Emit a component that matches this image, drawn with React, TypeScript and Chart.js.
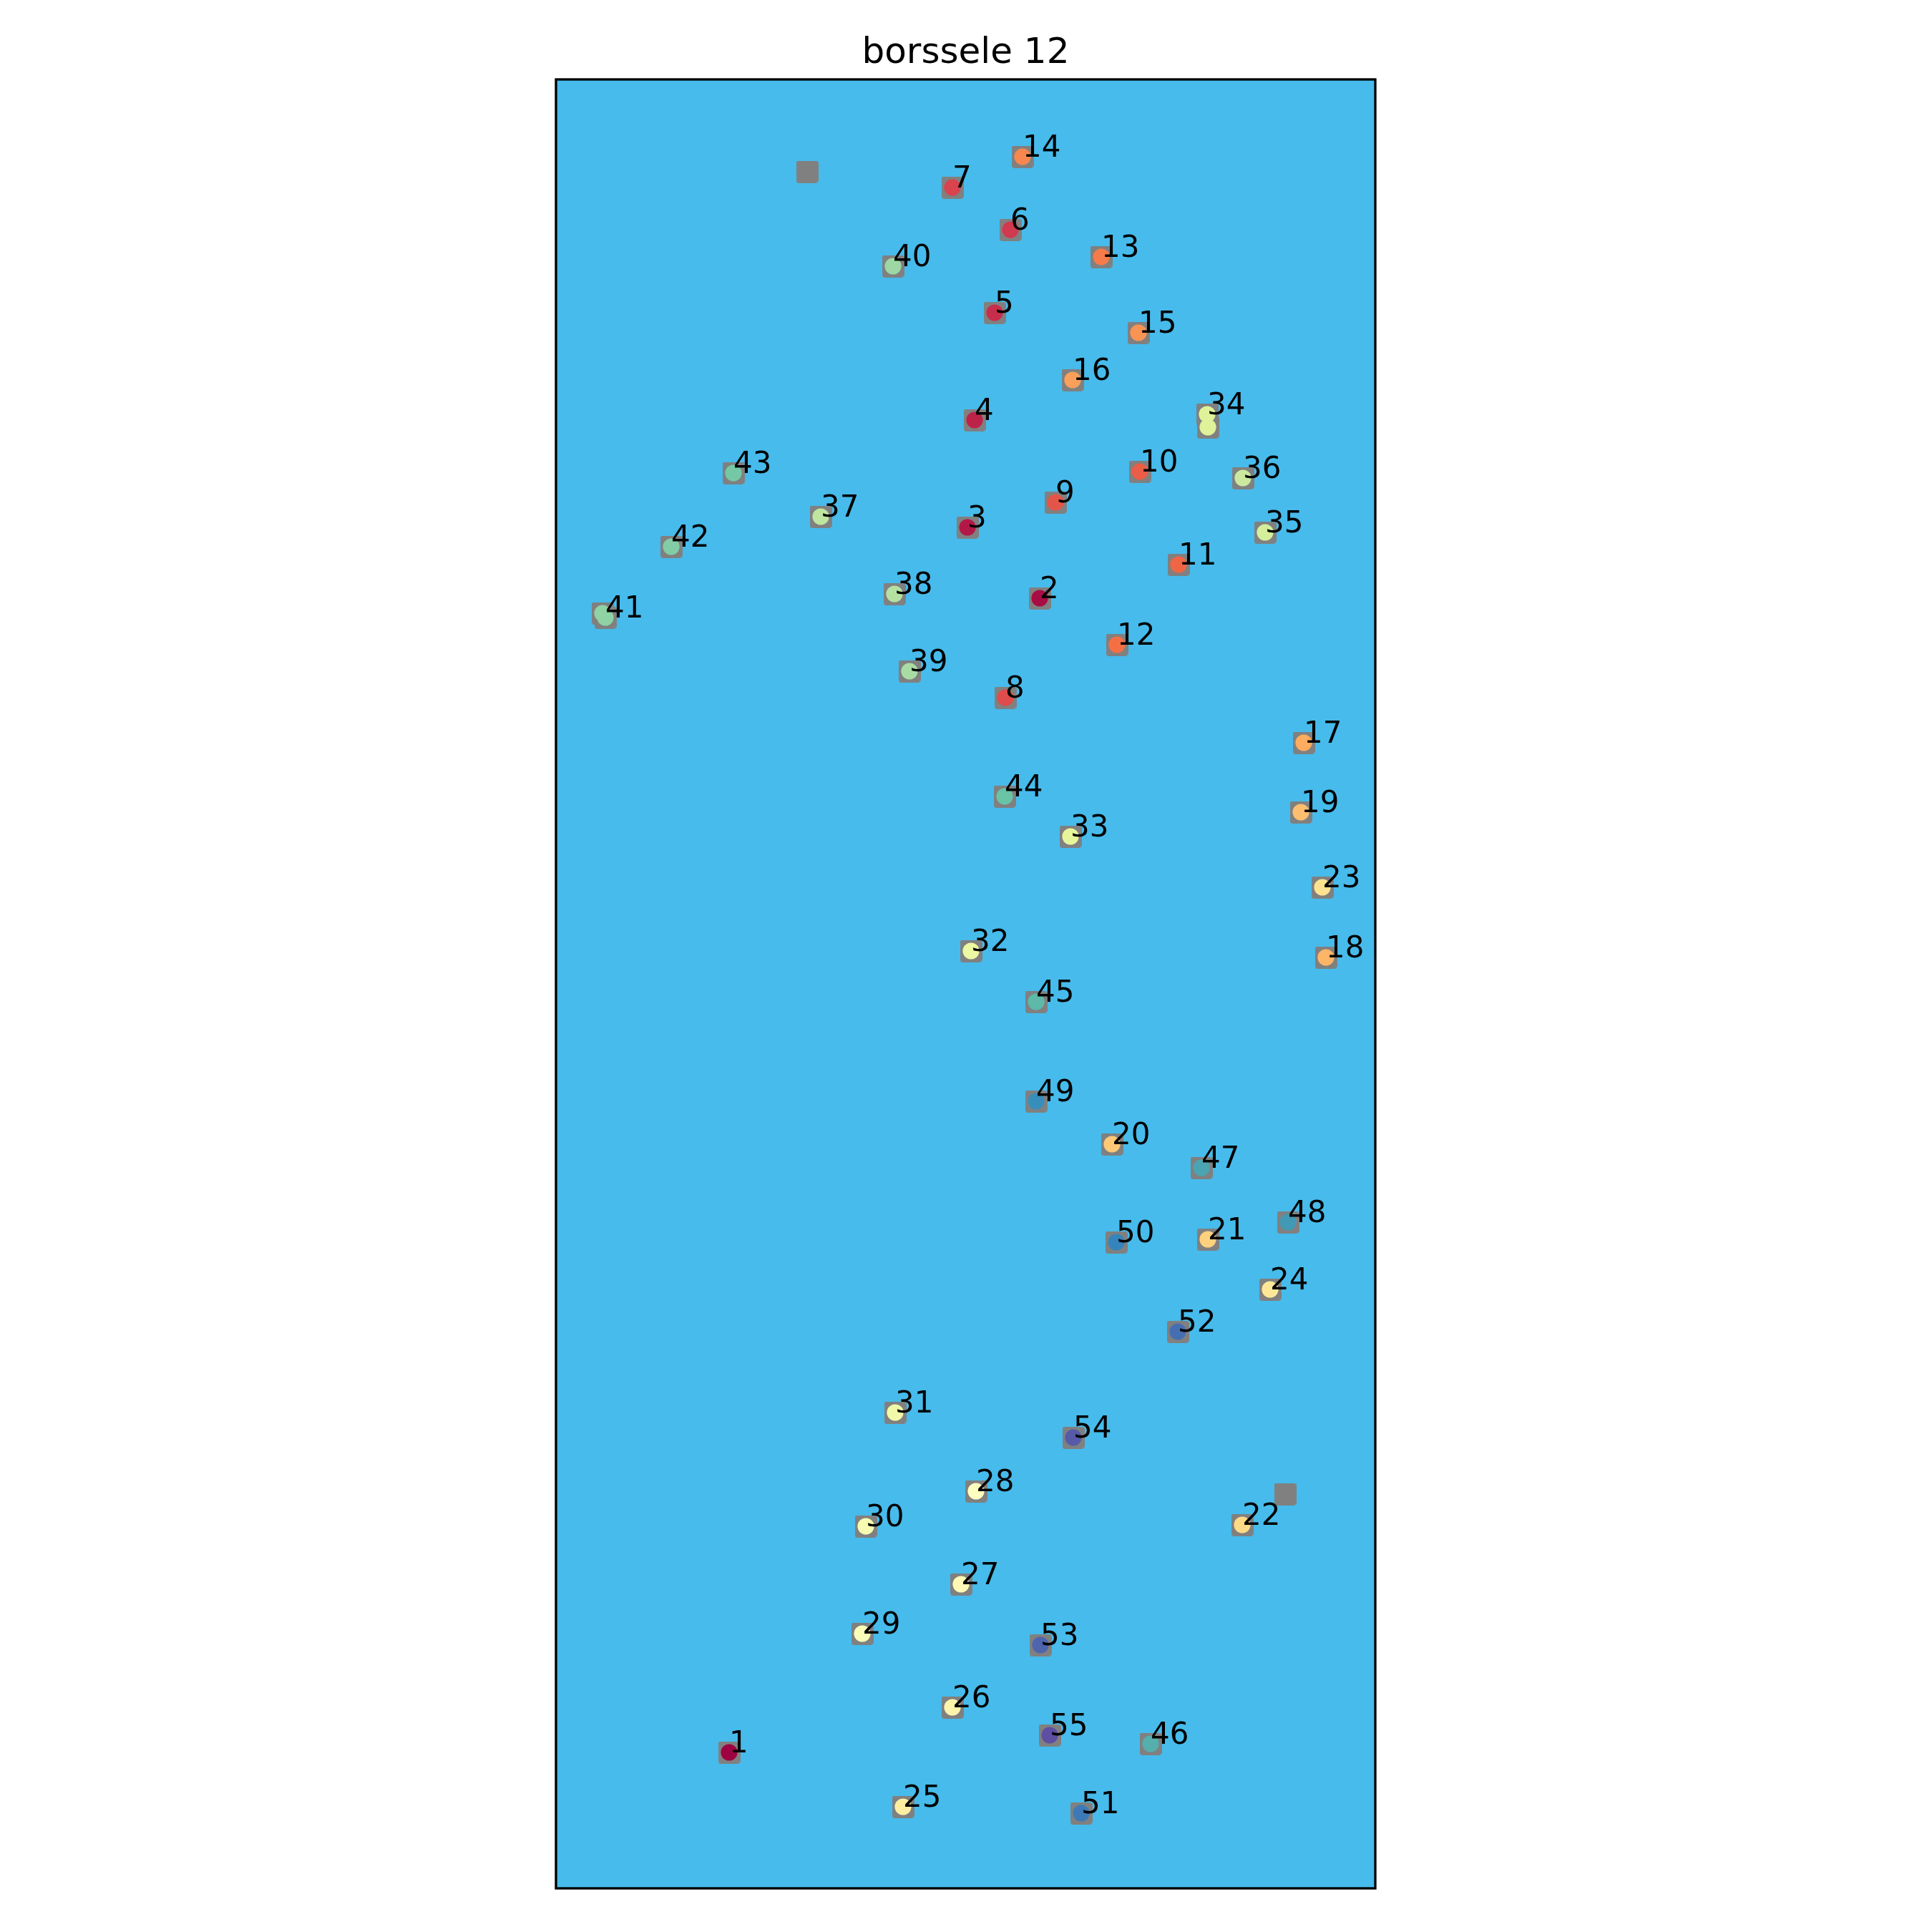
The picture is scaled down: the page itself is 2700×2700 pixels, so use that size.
import React, { useEffect, useRef } from "react";
import { Chart, registerables } from "chart.js";

Chart.register(...registerables);

const titleText = "borssele 12";

// Turbine positions (labelled 1..55), plot units
const turbineX = [
  242, 676, 575, 585, 613, 635, 554, 628, 698, 816,
  870, 784, 762, 652, 814, 722, 1045, 1076, 1041, 777,
  911, 959, 1071, 998, 485, 554, 566, 587, 428, 433,
  474, 580, 719, 910, 991, 960, 370, 473, 494, 471,
  69, 161, 248, 627, 671, 831, 902, 1023, 671, 783,
  734, 869, 677, 723, 690,
];
const turbineY = [
  190, 1803, 1902, 2052, 2202, 2318, 2377, 1664, 1937, 1980,
  1850, 1738, 2280, 2420, 2174, 2108, 1601, 1301, 1504, 1040,
  907, 508, 1399, 837, 114, 253, 425, 555, 356, 506,
  665, 1310, 1470, 2060, 1895, 1971, 1917, 1809, 1701, 2267,
  1776, 1875, 1978, 1526, 1239, 202, 1007, 931, 1100, 903,
  105, 778, 340, 630, 214,
];

// Extra unlabelled turbines (overlapping 34 and 41) and the label whose colour they share
const extraX = [911, 65];
const extraY = [2042, 1782];
const extraColorIndex = [34, 41];

// Candidate site squares that hold no turbine
const siteX = [351, 1019];
const siteY = [2399, 551];

const xMin = 0, xMax = 1145, yMin = 0, yMax = 2528;

const SPECTRAL = [
  "#9e0142", "#d53e4f", "#f46d43", "#fdae61", "#fee08b", "#ffffbf",
  "#e6f598", "#abdda4", "#66c2a5", "#3288bd", "#5e4fa2",
];

function hexToRgb(h: string) {
  return [parseInt(h.slice(1, 3), 16), parseInt(h.slice(3, 5), 16), parseInt(h.slice(5, 7), 16)];
}
function spectral(t: number) {
  const p = Math.max(0, Math.min(1, t)) * (SPECTRAL.length - 1);
  const i = Math.min(Math.floor(p), SPECTRAL.length - 2);
  const f = p - i;
  const a = hexToRgb(SPECTRAL[i]);
  const b = hexToRgb(SPECTRAL[i + 1]);
  const c = a.map((v, k) => Math.round(v + (b[k] - v) * f));
  return `rgb(${c[0]},${c[1]},${c[2]})`;
}

export default function App() {
  const ref = useRef<HTMLCanvasElement | null>(null);

  useEffect(() => {
    document.body.style.margin = "0";
    const canvas = ref.current!;
    const n = turbineX.length;
    const colorOf = (idx1: number) => spectral((idx1 - 1) / (n - 1));

    const sq = document.createElement("canvas");
    sq.width = 31;
    sq.height = 31;
    const sctx = sq.getContext("2d")!;
    sctx.fillStyle = "#808080";
    sctx.beginPath();
    (sctx as any).roundRect(0, 0, 31, 31, 4);
    sctx.fill();

    const turbinePts = turbineX.map((x, i) => ({ x, y: turbineY[i] }));
    const extraPts = extraX.map((x, i) => ({ x, y: extraY[i] }));
    const sitePts = siteX.map((x, i) => ({ x, y: siteY[i] }));
    const squarePts = [...turbinePts, ...extraPts, ...sitePts];

    const bgPlugin = {
      id: "bg",
      beforeDatasetsDraw(chart: any) {
        const { ctx, chartArea: a } = chart;
        ctx.save();
        ctx.fillStyle = "#47BBEB";
        ctx.fillRect(a.left, a.top, a.right - a.left, a.bottom - a.top);
        ctx.restore();
      },
    };

    const labelPlugin = {
      id: "labels",
      afterDatasetsDraw(chart: any) {
        const { ctx } = chart;
        const xs = chart.scales.x, ys = chart.scales.y;
        ctx.save();
        ctx.fillStyle = "#000";
        ctx.font = '42px "DejaVu Sans"';
        ctx.textAlign = "left";
        ctx.textBaseline = "alphabetic";
        turbineX.forEach((x, i) => {
          ctx.fillText(String(i + 1), xs.getPixelForValue(x), ys.getPixelForValue(turbineY[i]));
        });
        ctx.restore();
      },
      afterDraw(chart: any) {
        const { ctx, chartArea: a } = chart;
        ctx.save();
        ctx.strokeStyle = "#000";
        ctx.lineWidth = 3.3;
        ctx.strokeRect(a.left, a.top, a.right - a.left, a.bottom - a.top);
        ctx.fillStyle = "#000";
        ctx.font = '50px "DejaVu Sans"';
        ctx.textAlign = "center";
        ctx.textBaseline = "alphabetic";
        ctx.fillText(titleText, (a.left + a.right) / 2, 88);
        ctx.restore();
      },
    };

    const chart = new Chart(canvas, {
      type: "scatter",
      data: {
        datasets: [
          {
            label: "turbines",
            data: [...turbinePts, ...extraPts],
            pointStyle: "circle",
            pointRadius: 11.6,
            pointBorderWidth: 0,
            pointBackgroundColor: [
              ...turbinePts.map((_, i) => colorOf(i + 1)),
              ...extraColorIndex.map((k) => colorOf(k)),
            ],
            order: 1,
          } as any,
          {
            label: "sites",
            data: squarePts,
            pointStyle: sq,
            pointRadius: 15,
            order: 2,
          } as any,
        ],
      },
      options: {
        responsive: false,
        devicePixelRatio: 1,
        animation: false,
        layout: { padding: { left: 777, right: 778, top: 111, bottom: 61 } },
        scales: {
          x: { type: "linear", min: xMin, max: xMax, display: false },
          y: { type: "linear", min: yMin, max: yMax, display: false },
        },
        plugins: { legend: { display: false }, tooltip: { enabled: false }, title: { display: false } },
      },
      plugins: [bgPlugin, labelPlugin],
    });
    return () => chart.destroy();
  }, []);

  return <canvas ref={ref} width={2700} height={2700} style={{ display: "block" }} />;
}
